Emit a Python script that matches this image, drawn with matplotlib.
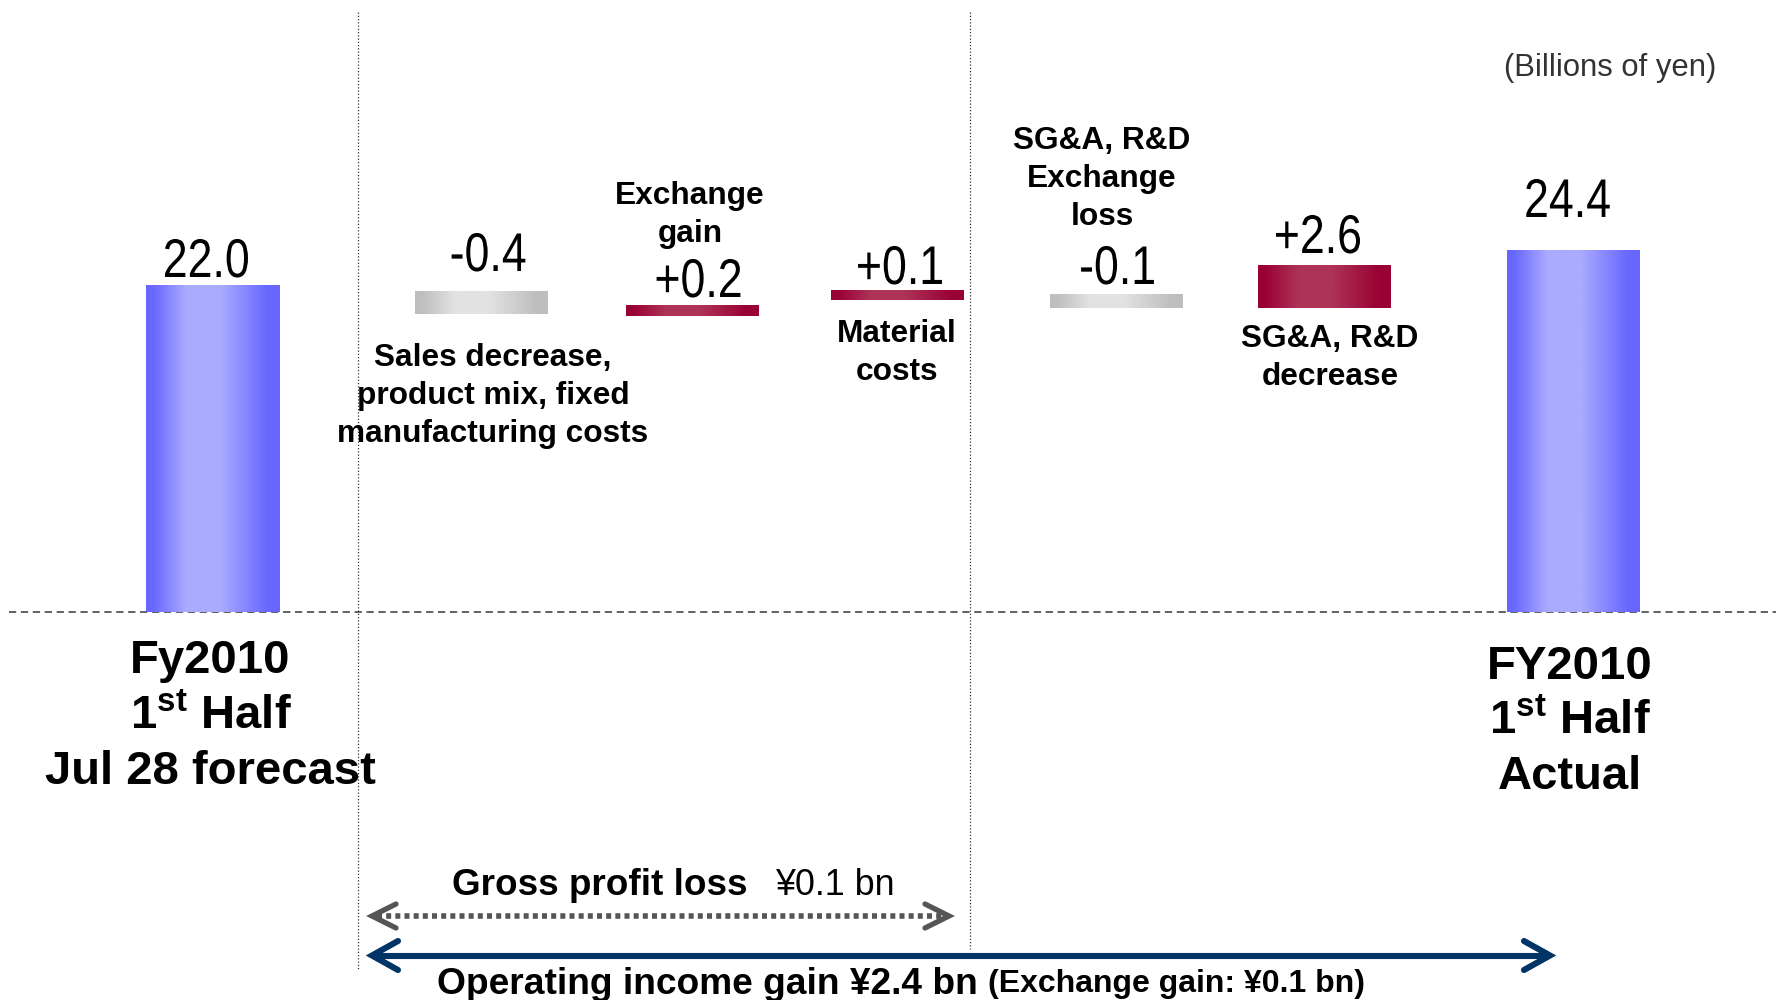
import numpy as np
import matplotlib
matplotlib.use("Agg")
import matplotlib.pyplot as plt
from matplotlib.colors import to_rgb
from matplotlib.textpath import TextPath
from matplotlib.patches import PathPatch
from matplotlib.transforms import Affine2D
from matplotlib.font_manager import FontProperties

# ---------------- data ----------------
value_text = ["22.0", "-0.4", "+0.2", "+0.1", "-0.1", "+2.6", "24.4"]
bar_kind = ["total", "down", "up", "up", "down", "up", "total"]
# drawn extents of each step (billions of yen, as drawn on the slide)
bar_bottom = [0.0, 20.1, 19.9, 21.0, 20.5, 20.5, 0.0]
bar_top = [22.0, 21.6, 20.7, 21.7, 21.4, 23.4, 24.4]
step_labels = [
    ["Sales decrease,", "product mix, fixed", "manufacturing costs"],
    ["Exchange", "gain"],
    ["Material", "costs"],
    ["SG&A, R&D", "Exchange", "loss"],
    ["SG&A, R&D", "decrease"],
]
end_labels = [
    ["Fy2010", r"1$^{\mathbf{st}}$ Half", "Jul 28 forecast"],
    ["FY2010", r"1$^{\mathbf{st}}$ Half", "Actual"],
]
unit_text = "(Billions of yen)"
gross_bold, gross_reg = "Gross profit loss", "\u00a50.1 bn"
op_main, op_note = "Operating income gain \u00a52.4 bn", "(Exchange gain: \u00a50.1 bn)"

# ---------------- layout ----------------
W, H, DPI = 1776, 1000, 100
BASE_PY = 612.0
PX_PER_UNIT = 14.85
bar_x = [212.5, 481.5, 692.5, 897.5, 1116.5, 1324.5, 1573.5]
BAR_W = 133
SANS = ["Liberation Sans", "DejaVu Sans"]

plt.rcParams["mathtext.fontset"] = "custom"
plt.rcParams["mathtext.rm"] = "Liberation Sans"
plt.rcParams["mathtext.bf"] = "Liberation Sans:bold"

fig = plt.figure(figsize=(W / DPI, H / DPI), dpi=DPI)
fig.patch.set_facecolor("white")
ax = fig.add_axes([0, 0, 1, 1])
ax.set_axis_off()
ylim = (-(H - BASE_PY) / PX_PER_UNIT, BASE_PY / PX_PER_UNIT)

colors = {
    "total": ("#6666FF", "#AAAAFF"),
    "up": ("#990033", "#AD3358"),
    "down": ("#BEBEBE", "#E2E2E2"),
}
t = np.linspace(0, 1, 256)
prof = np.interp(t, [0, 0.06, 0.3, 0.56, 0.9, 1.0], [0, 0.05, 1, 1, 0.05, 0])

for x, b, tp, k in zip(bar_x, bar_bottom, bar_top, bar_kind):
    rect = ax.bar(x, tp - b, bottom=b, width=BAR_W, color="none", edgecolor="none", zorder=2)[0]
    e, c = np.array(to_rgb(colors[k][0])), np.array(to_rgb(colors[k][1]))
    img = (e[None, :] + (c - e)[None, :] * prof[:, None])[None, :, :]
    im = ax.imshow(img, extent=[x - BAR_W / 2, x + BAR_W / 2, b, tp], aspect="auto",
                   interpolation="bilinear", zorder=2)
    im.set_clip_path(rect)

ax.plot([9, W], [0, 0], color="#555555", lw=1.3, dashes=(4, 2.6), zorder=1)
ax.set_xlim(0, W)
ax.set_ylim(*ylim)

# overlay in pixel coordinates for annotations
ov = fig.add_axes([0, 0, 1, 1])
ov.set_axis_off()
ov.patch.set_alpha(0)
ov.set_xlim(0, W)
ov.set_ylim(H, 0)

# vertical dotted separators
ov.plot([358, 358], [12, 970], color="#333333", lw=0.9, linestyle=(0, (1, 1.6)))
ov.plot([970, 970], [12, 949], color="#333333", lw=0.9, linestyle=(0, (1, 1.6)))

# value labels in a condensed face (horizontally compressed glyph outlines)
fp_val = FontProperties(family=SANS)

def narrow_text(x, y, s, size, sx):
    tpath = TextPath((0, 0), s, size=size, prop=fp_val)
    bb = tpath.get_extents()
    cx = (bb.x0 + bb.x1) / 2
    tr = Affine2D().translate(-cx, 0).scale(sx, -1).translate(x, y)
    ov.add_patch(PathPatch(tr.transform_path(tpath), facecolor="black", edgecolor="none", lw=0))

val_pos = [(206.5, 277), (488.5, 271), (698.5, 297), (900, 284), (1117.5, 284), (1318, 253), (1568, 217)]
for (x, y), s in zip(val_pos, value_text):
    narrow_text(x, y, s, 54.5, 0.82)

def block(x, y0, pitch, lines, **kw):
    for i, ln in enumerate(lines):
        ov.text(x, y0 + i * pitch, ln, ha="center", va="baseline", **kw)

lab_pos = [(493, 366), (690, 204), (896.5, 342), (1102, 149), (1330, 347)]
for (x, y), lines in zip(lab_pos, step_labels):
    block(x, y, 38, lines, fontsize=22.8, fontweight="bold", family=SANS, color="black")

block(210.5, 673, 55.5, end_labels[0], fontsize=34, fontweight="bold", family=SANS, color="black")
block(1570, 679, 55, end_labels[1], fontsize=34, fontweight="bold", family=SANS, color="black")

ov.text(1610, 76, unit_text, ha="center", va="baseline", fontsize=22.3, family=SANS, color="#333333")

# bracket arrows
def chevrons(x0, x1, y, dx, dy, color, lw):
    ov.plot([x0 + dx, x0, x0 + dx], [y - dy, y, y + dy], color=color, lw=lw,
            solid_capstyle="round", solid_joinstyle="miter")
    ov.plot([x1 - dx, x1, x1 - dx], [y - dy, y, y + dy], color=color, lw=lw,
            solid_capstyle="round", solid_joinstyle="miter")

ov.plot([377, 945], [916, 916], color="#555555", lw=4.0, linestyle=(0, (0.9, 0.75)),
        dash_capstyle="butt")
chevrons(372, 949, 916, 24, 12, "#555555", 3.8)

ov.plot([374, 1547], [955.5, 955.5], color="#003366", lw=4.4, solid_capstyle="butt")
chevrons(372, 1550, 955.5, 26, 14.5, "#003366", 4.4)

ov.text(452, 895, gross_bold, ha="left", va="baseline", fontsize=26.6, fontweight="bold", family=SANS)
ov.text(775, 895, gross_reg, ha="left", va="baseline", fontsize=25.8, family=SANS)
ov.text(437, 994, op_main, ha="left", va="baseline", fontsize=26.7, fontweight="bold", family=SANS)
ov.text(988, 992, op_note, ha="left", va="baseline", fontsize=23, fontweight="bold", family=SANS)

fig.savefig("out.png", dpi=DPI, facecolor="white")
